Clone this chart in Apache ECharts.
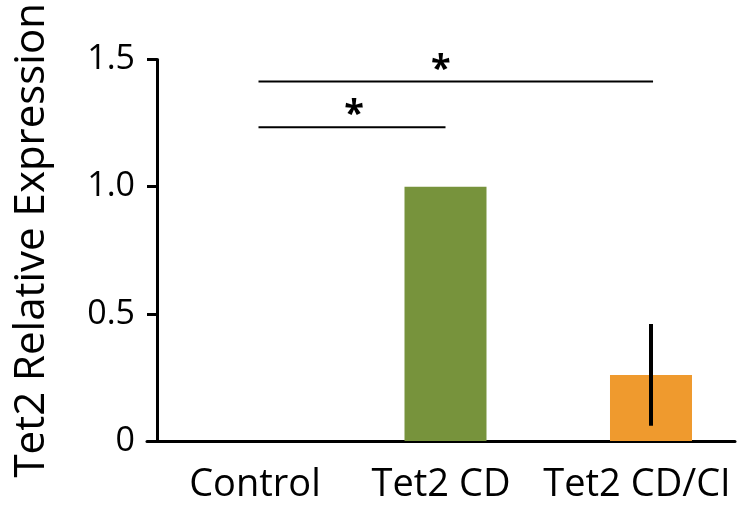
<!DOCTYPE html>
<html>
<head>
<meta charset="utf-8">
<script src="https://cdn.jsdelivr.net/npm/echarts@6/dist/echarts.min.js"></script>
<style>html,body{margin:0;padding:0;background:#fff}#c{width:750px;height:505px}</style>
</head>
<body>
<div id="c"></div>
<script>
// ---- data ----
var categories = ["Control", "Tet2 CD", "Tet2 CD/CI"];
var values = [0, 1.0, 0.26];
var errLow = [null, null, 0.06];
var errHigh = [null, null, 0.46];
var barColors = ["#77933C", "#77933C", "#EF9A2E"];
var yTickLabels = ["0", "0.5", "1.0", "1.5"];
var yTickValues = [0, 0.5, 1.0, 1.5];
var yTitle = "Tet2 Relative Expression";
// significance brackets: from position, to position, height, star position
var sigFrom = [0.09, 0.09];
var sigTo = [2.01, 1.0];
var sigLevel = [1.414, 1.234];
var sigStarX = [0.977, 0.555];
var sigText = ["*", "*"];

var FONT = "Open Sans";
var chart = echarts.init(document.getElementById('c'));

var barData = values.map(function (v, i) {
  return { value: [i, v], itemStyle: { color: barColors[i] } };
});
var errData = [];
values.forEach(function (v, i) {
  if (errLow[i] != null) errData.push([i, errLow[i], errHigh[i]]);
});
var sigData = sigFrom.map(function (f, i) { return [f, sigTo[i], sigLevel[i], sigStarX[i], i]; });
var catData = categories.map(function (c, i) {
  return i === 0 ? { value: c, textStyle: { padding: [0, 0, 0, 20] } } : c;
});

chart.setOption({
  animation: false,
  grid: { left: 147, right: 15, top: 57, bottom: 64, containLabel: false },
  xAxis: [
    {
      type: 'category',
      data: catData,
      axisLine: { onZero: false, lineStyle: { color: '#000', width: 3 } },
      axisTick: { show: false },
      axisLabel: { color: '#000', fontFamily: FONT, fontSize: 38, margin: 25, interval: 0 },
      splitLine: { show: false }
    },
    {
      type: 'value',
      min: -0.4526,
      max: 2.4088,
      show: false,
      axisLine: { onZero: false },
      splitLine: { show: false }
    }
  ],
  yAxis: {
    type: 'value',
    min: 0, max: 1.5, interval: 0.5,
    offset: -10,
    name: yTitle,
    nameLocation: 'middle',
    nameGap: 104,
    nameTextStyle: { color: '#000', fontFamily: FONT, fontSize: 42, padding: [0, 0, 0, 20] },
    axisLine: { show: true, onZero: false, lineStyle: { color: '#000', width: 3 } },
    axisTick: { show: true, length: 10, lineStyle: { color: '#000', width: 3 } },
    axisLabel: {
      color: '#000', fontFamily: FONT, fontSize: 34, margin: 22,
      formatter: function (v) { var k = yTickValues.indexOf(v); return k >= 0 ? yTickLabels[k] : ''; }
    },
    splitLine: { show: false }
  },
  series: [
    {
      type: 'bar',
      xAxisIndex: 1,
      barWidth: 82,
      data: barData,
      z: 2
    },
    {
      type: 'custom',
      xAxisIndex: 1,
      z: 5,
      data: errData,
      renderItem: function (params, api) {
        var lo = api.coord([api.value(0), api.value(1)]);
        var hi = api.coord([api.value(0), api.value(2)]);
        return {
          type: 'line',
          shape: { x1: lo[0], y1: lo[1], x2: hi[0], y2: hi[1] },
          style: { stroke: '#000', lineWidth: 4 }
        };
      }
    },
    {
      type: 'custom',
      xAxisIndex: 1,
      z: 5,
      data: sigData,
      renderItem: function (params, api) {
        var a = api.coord([api.value(0), api.value(2)]);
        var b = api.coord([api.value(1), api.value(2)]);
        var s = api.coord([api.value(3), api.value(2)]);
        var idx = api.value(4);
        return {
          type: 'group',
          children: [
            { type: 'line', shape: { x1: a[0], y1: a[1], x2: b[0], y2: b[1] }, style: { stroke: '#000', lineWidth: 2 } },
            { type: 'text', x: s[0], y: a[1] - 12,
              style: { text: sigText[idx], fill: '#000', font: 'bold 36px "' + FONT + '"', align: 'center', verticalAlign: 'middle' } }
          ]
        };
      }
    }
  ]
});
</script>
</body>
</html>
